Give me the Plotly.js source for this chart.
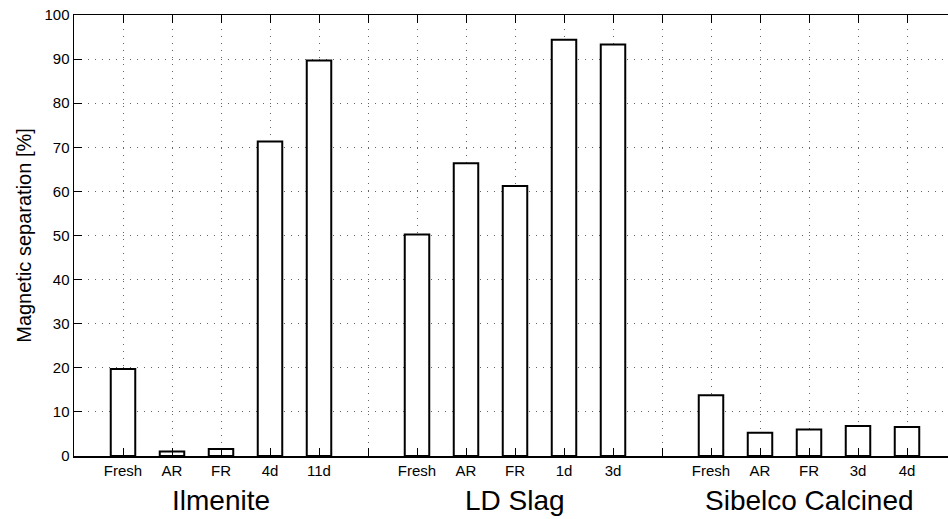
<!DOCTYPE html>
<html>
<head>
<meta charset="utf-8">
<script src="https://cdn.plot.ly/plotly-3.0.1.min.js"></script>
<style>
html,body{margin:0;padding:0;overflow:hidden;background:#fff;}
#chart{width:960px;height:519px;}
</style>
</head>
<body>
<div id="chart"></div>
<script>
// Data
var groupNames = ["Ilmenite", "LD Slag", "Sibelco Calcined"];
var ilmeniteLabels = ["Fresh", "AR", "FR", "4d", "11d"];
var ldSlagLabels = ["Fresh", "AR", "FR", "1d", "3d"];
var sibelcoLabels = ["Fresh", "AR", "FR", "3d", "4d"];
var ilmeniteValues = [19.7, 1.0, 1.6, 71.3, 89.7];
var ldSlagValues = [50.2, 66.4, 61.2, 94.4, 93.3];
var sibelcoValues = [13.8, 5.3, 6.0, 6.8, 6.6];

var groupLabels = [ilmeniteLabels, ldSlagLabels, sibelcoLabels];
var groupValues = [ilmeniteValues, ldSlagValues, sibelcoValues];

// Build positions: each group of 5 followed by an empty slot
var xs = [], ys = [], tickvals = [], ticktext = [], groupCenters = [];
var slot = 6;
for (var g = 0; g < groupLabels.length; g++) {
  for (var i = 0; i < groupLabels[g].length; i++) {
    var pos = g * slot + i + 1;
    xs.push(pos);
    ys.push(groupValues[g][i]);
    tickvals.push(pos);
    ticktext.push(groupLabels[g][i]);
  }
  groupCenters.push(g * slot + (groupLabels[g].length + 1) / 2);
  if (g < groupLabels.length - 1) {
    tickvals.push(g * slot + slot);
    ticktext.push("");
  }
}

var font = "Liberation Sans, Arial, Helvetica, sans-serif";

var trace = {
  type: "bar",
  x: xs,
  y: ys,
  width: 0.5,
  marker: {color: "#ffffff", line: {color: "#000000", width: 2}},
  hoverinfo: "skip"
};

var annotations = groupNames.map(function (name, k) {
  return {
    text: name, x: groupCenters[k], xref: "x", y: -0.1, yref: "paper",
    xanchor: "center", yanchor: "middle", showarrow: false,
    font: {family: font, size: 28, color: "#000"}
  };
});

var layout = {
  width: 960, height: 519,
  margin: {l: 74, r: 4, t: 15, b: 63},
  paper_bgcolor: "#fff", plot_bgcolor: "#fff",
  showlegend: false,
  font: {family: font, color: "#000"},
  xaxis: {
    range: [0, 18], tickmode: "array", tickvals: tickvals, ticktext: ticktext,
    ticks: "inside", ticklen: 8, tickcolor: "#000", tickwidth: 1,
    showline: true, linecolor: "#000", linewidth: 1.5, mirror: "ticks",
    showgrid: true, gridcolor: "#666666", griddash: "1px,6px", gridwidth: 1,
    zeroline: false, tickfont: {family: font, size: 15, color: "#000"},
    fixedrange: true
  },
  yaxis: {
    range: [0, 100], tickmode: "linear", tick0: 0, dtick: 10,
    ticks: "inside", ticklen: 8, tickcolor: "#000", tickwidth: 1,
    showline: true, linecolor: "#000", linewidth: 1.5, mirror: "ticks",
    showgrid: true, gridcolor: "#666666", griddash: "1px,6px", gridwidth: 1,
    zeroline: false, tickfont: {family: font, size: 15, color: "#000"},
    title: {text: "Magnetic separation [%]", font: {family: font, size: 20, color: "#000"}, standoff: 7},
    fixedrange: true
  },
  annotations: annotations
};

Plotly.newPlot("chart", [trace], layout, {displayModeBar: false, staticPlot: true});
</script>
</body>
</html>
